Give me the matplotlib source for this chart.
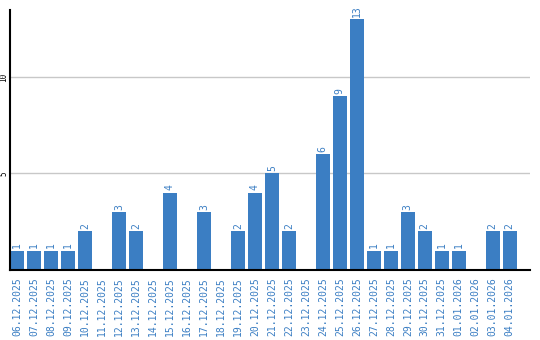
import matplotlib
matplotlib.use('Agg')
import matplotlib.pyplot as plt

# daily counts
dates = ["06.12.2025", "07.12.2025", "08.12.2025", "09.12.2025", "10.12.2025",
         "11.12.2025", "12.12.2025", "13.12.2025", "14.12.2025", "15.12.2025",
         "16.12.2025", "17.12.2025", "18.12.2025", "19.12.2025", "20.12.2025",
         "21.12.2025", "22.12.2025", "23.12.2025", "24.12.2025", "25.12.2025",
         "26.12.2025", "27.12.2025", "28.12.2025", "29.12.2025", "30.12.2025",
         "31.12.2025", "01.01.2026", "02.01.2026", "03.01.2026", "04.01.2026"]
counts = [1, 1, 1, 1, 2, 0, 3, 2, 0, 4, 0, 3, 0, 2, 4,
          5, 2, 0, 6, 9, 13, 1, 1, 3, 2, 1, 1, 0, 2, 2]
y_ticks = [5, 10]

BLUE = '#3b7ec3'
MONO = 'DejaVu Sans Mono'

fig = plt.figure(figsize=(5.4, 3.4), dpi=100)
ax = fig.add_axes([10 / 540, 70 / 340, 520 / 540, 260 / 340])

pos = list(range(len(dates)))
ax.bar(pos, counts, width=0.82, align='edge', color=BLUE, zorder=2)

for x, v in zip(pos, counts):
    if v > 0:
        ax.text(x + 0.41, v + 0.12, str(v), rotation=90, ha='center', va='bottom',
                fontsize=7, family=MONO, color=BLUE)

ax.set_xlim(0, 30.6)
ax.set_ylim(0, 13.47)

ax.set_xticks([p + 0.41 for p in pos])
ax.set_xticklabels(dates, rotation=90, fontsize=7, family=MONO, color=BLUE)
ax.tick_params(axis='x', length=0, pad=5)

ax.set_yticks(y_ticks)
ax.set_yticklabels([str(t) for t in y_ticks], rotation=90, fontsize=5.5, family=MONO,
                   va='center', color='black')
ax.tick_params(axis='y', length=0, pad=1)

ax.yaxis.grid(True, color='#c8c8c8', linewidth=1, zorder=0)
ax.set_axisbelow(True)

for s in ['top', 'right']:
    ax.spines[s].set_visible(False)
ax.spines['left'].set_linewidth(1.5)
ax.spines['bottom'].set_linewidth(1.5)

fig.savefig('out.png', dpi=100)
